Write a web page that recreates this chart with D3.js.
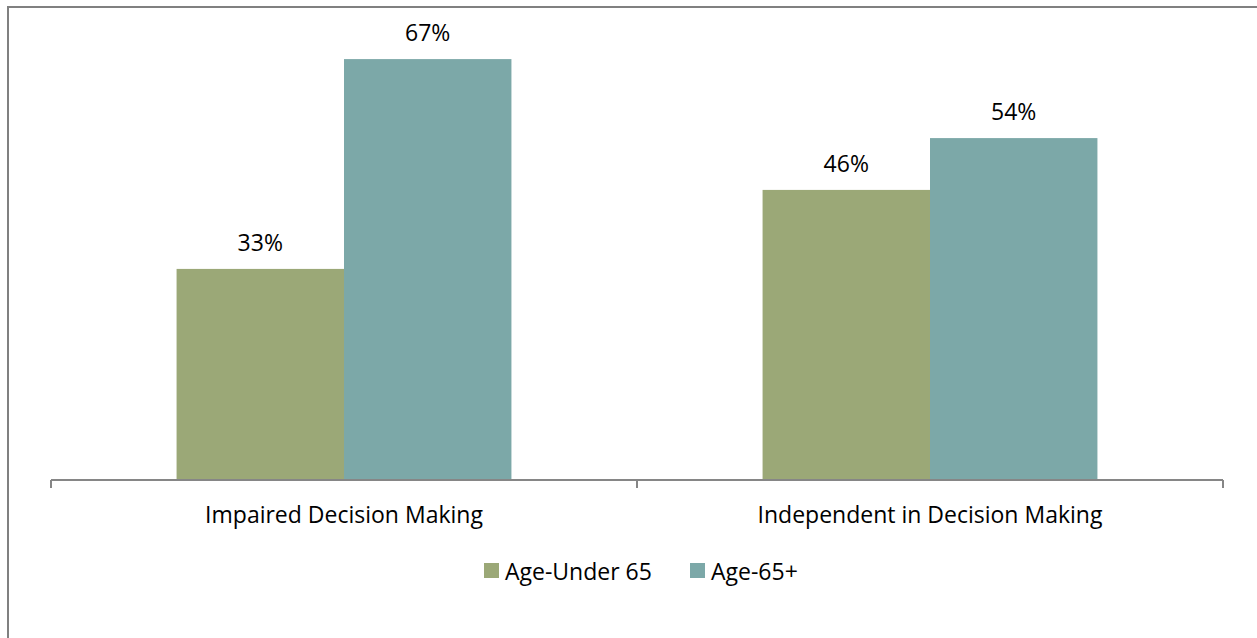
<!DOCTYPE html>
<html><head><meta charset="utf-8">
<script src="https://cdn.jsdelivr.net/npm/d3@7"></script>
<style>body{margin:0;background:#fff}svg{display:block}text{font-family:"Open Sans",sans-serif;fill:#000}</style>
</head><body><svg id="c" width="1257" height="638"></svg>
<script>
const categories = ["Impaired Decision Making", "Independent in Decision Making"];
const seriesNames = ["Age-Under 65", "Age-65+"];
const under65 = [33.4, 45.9];
const over65 = [66.6, 54.1];
const valueLabels = [["33%", "67%"], ["46%", "54%"]];
const colors = ["#9ba877", "#7ca8a8"];
const FS = "23px";

const svg = d3.select("#c");
svg.append("path").attr("d","M8,638V7H1257").attr("fill","none").attr("stroke","#808080").attr("stroke-width",2);

const x0 = d3.scaleBand().domain(categories).range([51, 1223]).paddingInner(0).paddingOuter(0);
const x1 = d3.scaleBand().domain(seriesNames).range([0, x0.bandwidth()]).paddingInner(0).paddingOuter(0.75);
const y = d3.scaleLinear().domain([0, 70]).range([480, 37.6]);

const data = categories.map((c,i)=>({cat:c, vals:[under65[i], over65[i]], labels:valueLabels[i]}));
const grp = svg.append("g").selectAll("g.grp").data(data).join("g").attr("transform",d=>`translate(${x0(d.cat)},0)`);
grp.selectAll("rect").data(d=>d.vals.map((v,j)=>({v,j,name:seriesNames[j]}))).join("rect")
  .attr("x",d=>x1(d.name)).attr("width",x1.bandwidth())
  .attr("y",d=>y(d.v)).attr("height",d=>y(0)-y(d.v)).attr("fill",d=>colors[d.j]);
grp.selectAll("text.lab").data(d=>d.vals.map((v,j)=>({v,j,name:seriesNames[j],t:d.labels[j]}))).join("text")
  .attr("class","lab").attr("x",d=>x1(d.name)+x1.bandwidth()/2).attr("y",d=>y(d.v)-18)
  .attr("text-anchor","middle").style("font-size",FS).text(d=>d.t);

const ax = svg.append("g").attr("transform","translate(0,480)")
  .call(d3.axisBottom(x0).tickSize(0).tickPadding(0));
ax.select(".domain").attr("stroke","#868686").attr("stroke-width",2).attr("d","M51,0H1223");
ax.selectAll(".tick text").remove();
const tickPos = [51, ...categories.map(c=>x0(c)+x0.bandwidth())];
ax.selectAll("line.t").data(tickPos).join("line").attr("class","t")
  .attr("x1",d=>d).attr("x2",d=>d).attr("y1",0).attr("y2",8).attr("stroke","#868686").attr("stroke-width",2);
svg.selectAll("text.cat").data(categories).join("text").attr("class","cat")
  .attr("x",d=>x0(d)+x0.bandwidth()/2).attr("y",523).attr("text-anchor","middle")
  .style("font-size",FS).text(d=>d);

const leg = svg.append("g");
const legX = [484, 690];
seriesNames.forEach((n,i)=>{
  leg.append("rect").attr("x",legX[i]).attr("y",563).attr("width",15).attr("height",15).attr("fill",colors[i]);
  leg.append("text").attr("x",legX[i]+21).attr("y",580).style("font-size",FS).text(n);
});
</script></body></html>
